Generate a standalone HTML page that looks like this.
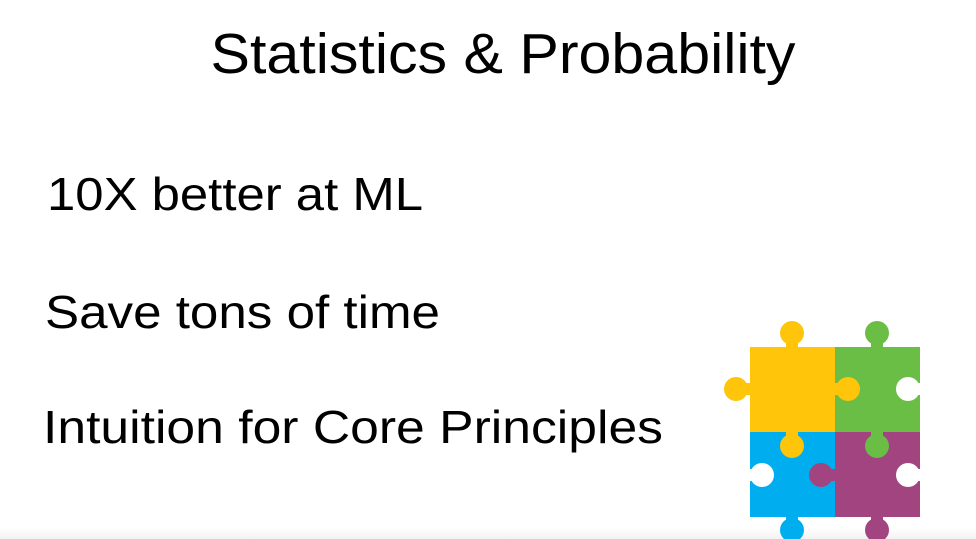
<!DOCTYPE html>
<html><head><meta charset="utf-8"><style>
html,body{margin:0;padding:0;background:#fff;}
svg{display:block;}
text{font-family:"Liberation Sans",sans-serif;fill:#000;}
</style></head><body>
<svg width="976" height="539" viewBox="0 0 976 539">
<defs><linearGradient id="g" x1="0" y1="0" x2="0" y2="1"><stop offset="0" stop-color="#fff"/><stop offset="1" stop-color="#f2f2f2"/></linearGradient></defs>
<rect x="0" y="528" width="976" height="11" fill="url(#g)"/>
<text x="503" y="73" text-anchor="middle" font-size="57" textLength="585" lengthAdjust="spacingAndGlyphs">Statistics &amp; Probability</text>
<text x="47" y="210" font-size="46" textLength="376" lengthAdjust="spacingAndGlyphs">10X better at ML</text>
<text x="45" y="328" font-size="46" textLength="395" lengthAdjust="spacingAndGlyphs">Save tons of time</text>
<text x="43" y="443" font-size="46" textLength="620" lengthAdjust="spacingAndGlyphs">Intuition for Core Principles</text>
<g>
<rect x="750" y="347" width="85.5" height="85.5" fill="#fec50a"/>
<rect x="835" y="347" width="85" height="85.5" fill="#6abd45"/>
<rect x="750" y="432" width="85.5" height="85" fill="#00adef"/>
<rect x="835" y="432" width="85" height="85" fill="#a1447f"/>
<!-- yellow knobs -->
<circle cx="792" cy="333" r="12" fill="#fec50a"/><rect x="786" y="340" width="12" height="8" fill="#fec50a"/>
<circle cx="736" cy="389" r="12" fill="#fec50a"/><rect x="743" y="383" width="8" height="12" fill="#fec50a"/>
<circle cx="848" cy="389" r="12" fill="#fec50a"/><rect x="834" y="383" width="8" height="12" fill="#fec50a"/>
<circle cx="792" cy="446" r="12" fill="#fec50a"/><rect x="786" y="430" width="12" height="8" fill="#fec50a"/>
<!-- green knobs -->
<circle cx="877" cy="333" r="12" fill="#6abd45"/><rect x="871" y="340" width="12" height="8" fill="#6abd45"/>
<circle cx="877" cy="446" r="12" fill="#6abd45"/><rect x="871" y="430" width="12" height="8" fill="#6abd45"/>
<!-- purple knob into blue -->
<circle cx="821" cy="475" r="12" fill="#a1447f"/><rect x="828" y="469" width="8" height="12" fill="#a1447f"/>
<!-- bottom knobs -->
<circle cx="792" cy="530" r="12" fill="#00adef"/><rect x="786" y="515" width="12" height="8" fill="#00adef"/>
<circle cx="877" cy="530" r="12" fill="#a1447f"/><rect x="871" y="515" width="12" height="8" fill="#a1447f"/>
<!-- holes -->
<circle cx="908" cy="389" r="12" fill="#fff"/><rect x="912" y="383" width="9" height="12" fill="#fff"/>
<circle cx="908" cy="475" r="12" fill="#fff"/><rect x="912" y="469" width="9" height="12" fill="#fff"/>
<circle cx="762" cy="475" r="12" fill="#fff"/><rect x="749" y="469" width="9" height="12" fill="#fff"/>
</g>
</svg>
</body></html>
